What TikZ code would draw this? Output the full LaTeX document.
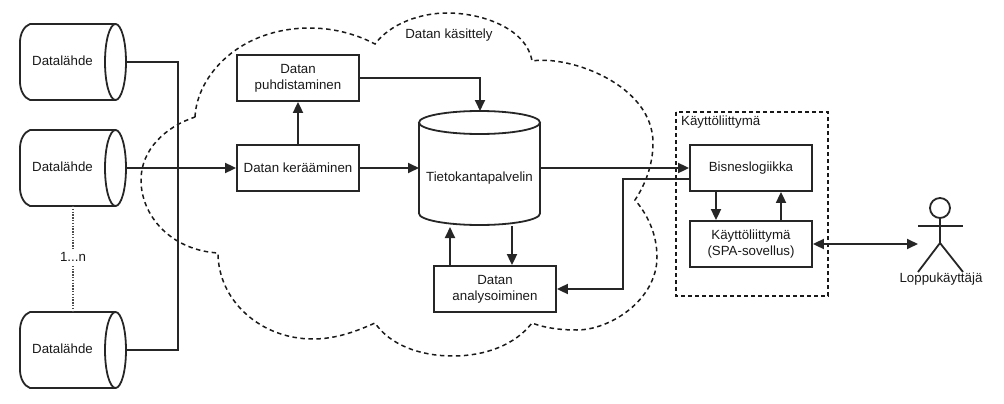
\documentclass[tikz,border=0pt]{standalone}
\usepackage{fontspec}
\setmainfont{Liberation Sans}
\usetikzlibrary{arrows.meta,calc}
\tikzset{
  ln/.style={line width=1.8pt,color=black!85},
  flow/.style={ln,-{Triangle[length=11pt,width=10pt]}},
  both/.style={ln,{Triangle[length=11pt,width=10pt]}-{Triangle[length=11pt,width=10pt]}},
  plain/.style={ln},
  txt/.style={font=\fontsize{13.3}{16}\selectfont,text=black!90,inner sep=0pt,align=center},
  procbox/.style={txt,draw=black!85,line width=1.8pt,minimum width=122pt,minimum height=46pt},
  ghost/.style={inner sep=0pt,outer sep=0pt},
  cylbox/.style={ghost,minimum width=106pt,minimum height=76pt},
  dbbox/.style={ghost,minimum width=121pt,minimum height=114pt},
  region/.style={line width=1.5pt,color=black!90,dash pattern=on 4.5pt off 3.5pt},
  dotline/.style={line width=1.5pt,color=black!70,dash pattern=on 1.4pt off 1.4pt},
}
\newcommand{\hcyl}[3]{%
  \node[cylbox,label={[txt,name=#1t,xshift=-10.5pt,yshift=1pt]center:Datalähde}] (#1) at (#2,#3) {};
  \begin{scope}[shift={(#2,#3)}]
    \draw[plain] (43,-38) -- (-43,-38) .. controls (-49,-36) and (-53,-28) .. (-53,-20)
      -- (-53,20) .. controls (-53,28) and (-49,36) .. (-43,38) -- (43,38);
    \draw[plain] (42.5,0) ellipse [x radius=10.5,y radius=38];
  \end{scope}
}
\begin{document}
\begin{tikzpicture}[x=1pt,y=-1pt]
\useasboundingbox (0,0) rectangle (1004,404);
% cloud
\draw[region] (195,117) .. controls (197,75) and (240,28) .. (310,28)
  .. controls (335,28) and (358,35) .. (375,44)
  .. controls (390,24) and (420,13) .. (447,13)
  .. controls (485,13) and (527,30) .. (532,61)
  .. controls (570,55) and (653,85) .. (653,143)
  .. controls (653,165) and (645,185) .. (635,200)
  .. controls (648,215) and (657,235) .. (657,257)
  .. controls (657,300) and (610,330) .. (577,330)
  .. controls (560,330) and (545,328) .. (532,323)
  .. controls (515,345) and (485,356) .. (453,356)
  .. controls (420,356) and (390,345) .. (375,323)
  .. controls (355,332) and (335,339) .. (313,339)
  .. controls (260,339) and (218,300) .. (218,253)
  .. controls (170,250) and (141,215) .. (141,180)
  .. controls (141,150) and (165,127) .. (195,117) -- cycle;
\node[txt] (cloudlabel) at (449,35) {Datan käsittely};
% UI region
\draw[region,line width=1.8pt,dash pattern=on 4pt off 3pt] (676,112) rectangle (828,296);
\node[txt,anchor=west] (uilabel) at (681,122) {Käyttöliittymä};
% sources
\hcyl{s1}{73}{62}
\hcyl{s2}{73}{168}
\hcyl{s3}{73}{350}
\node[txt,inner sep=4pt] (dots) at (73,257) {1...n};
% processes
\node[procbox] (clean) at (298,78) {Datan\\puhdistaminen};
\node[procbox] (collect) at (298,168) {Datan kerääminen};
\node[procbox] (analyse) at (495,289) {Datan\\analysoiminen};
\node[procbox] (logic) at (751,168) {Bisneslogiikka};
\node[procbox] (spa) at (751,244) {Käyttöliittymä\\(SPA-sovellus)};
% database
\node[dbbox,label={[txt,name=dbt,yshift=-10pt]center:Tietokantapalvelin}] (db) at (479.5,168) {};
\draw[plain] (db.north west) ++(0,11.5) -- ($(db.south west)+(0,-11.5)$)
  arc [start angle=180,end angle=360,x radius=60.5,y radius=-11.5]
  -- ($(db.north east)+(0,11.5)$);
\draw[plain] ($(db.north)+(0,11.5)$) ellipse [x radius=60.5,y radius=11.5];
% actor
\coordinate (head) at (940,208);
\coordinate (neck) at (940,218);
\coordinate (hip) at (940,243);
\coordinate (user) at (918,244);
\draw[plain] (head) circle [radius=10];
\draw[plain] (neck) -- (hip);
\draw[plain] (918,226) -- (963,226);
\draw[plain] (918,272) -- (hip) -- (963,272);
\node[txt] (userlabel) at (941,279) {Loppukäyttäjä};
% connectors
\draw[plain] (s1.east) -| (178,350) -- (s3.east);
\draw[flow] (s2.east) -- (collect.west);
\draw[flow] (collect.north) -- (clean.south);
\draw[flow] (collect.east) -- (collect.east -| db.west);
\draw[flow] (clean.east) -| ([xshift=0.5pt]db.north);
\draw[flow] (db.east |- logic.west) -- (logic.west);
\draw[flow] ($(logic.west)+(0,11)$) -| (623,289) -- (analyse.east);
\draw[flow] ([xshift=32.5pt,yshift=-1pt]db.south) -- ([xshift=17pt]analyse.north);
\draw[flow] ([xshift=-45pt]analyse.north) -- ([xshift=-29.5pt,yshift=-2pt]db.south);
\draw[flow] ([xshift=-35pt]logic.south) -- ([xshift=-35pt]spa.north);
\draw[flow] ([xshift=30pt]spa.north) -- ([xshift=30pt]logic.south);
\draw[both] (spa.east) -- (user);
\draw[dotline] (s2.south) -- (dots.north);
\draw[dotline] (dots.south) -- (s3.north);
\end{tikzpicture}
\end{document}
